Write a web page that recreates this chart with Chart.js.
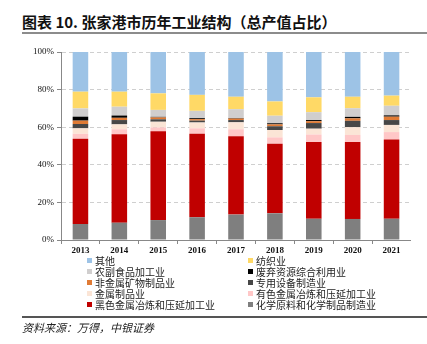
<!DOCTYPE html>
<html>
<head>
<meta charset="utf-8">
<script src="https://cdn.jsdelivr.net/npm/chart.js@4"></script>
<style>
  body { margin: 0; width: 427px; height: 344px; background: #fff; position: relative; overflow: hidden;
         font-family: "Noto Sans CJK SC", sans-serif; }
  #title { position: absolute; left: 22px; top: 11px; font-size: 15px; font-weight: bold; color: #111; white-space: nowrap; }
  #titleRule { position: absolute; left: 22px; right: 0; top: 32px; height: 2px; background: #8c8c8c; }
  #box { position: absolute; left: 0; top: 40px; width: 411px; height: 216px; }
  #legend { position: absolute; left: 0; top: 255px; width: 427px; font-size: 10px; color: #222; }
  .item { position: absolute; white-space: nowrap; line-height: 11px; }
  .item i { display: inline-block; width: 5px; height: 5px; margin-right: 3px; vertical-align: 2px; }
  #footRule { position: absolute; left: 22px; right: 0; top: 316px; height: 1.5px; background: #555; }
  #source { position: absolute; left: 22px; top: 319px; font-size: 11px; font-style: italic; color: #222; }
</style>
</head>
<body>
<div id="title">图表 10. 张家港市历年工业结构（总产值占比）</div>
<div id="titleRule"></div>
<div id="box"><canvas id="structChart"></canvas></div>
<div id="legend"></div>
<div id="footRule"></div>
<div id="source">资料来源：万得，中银证券</div>
<script>
const years = ['2013', '2014', '2015', '2016', '2017', '2018', '2019', '2020', '2021'];
const yTicks = [0, 20, 40, 60, 80, 100];

// shares of gross output value, %, bottom of stack first
const chemical   = [8.5, 9.2, 10.6, 12.1, 13.5, 14.2, 11.3, 11.2, 11.3];
const ferrous    = [45.4, 47.0, 47.2, 44.4, 41.7, 37.0, 40.8, 40.9, 42.1];
const nonferrous = [2.6, 2.7, 2.1, 2.9, 3.7, 3.4, 4.0, 3.8, 4.0];
const metalProd  = [2.9, 2.6, 3.0, 3.1, 3.7, 3.9, 3.1, 4.1, 3.8];
const equipment  = [2.3, 2.3, 1.3, 1.0, 1.2, 2.0, 3.0, 3.4, 2.6];
const nonMetal   = [1.8, 1.2, 1.0, 0.8, 0.8, 1.0, 1.0, 1.3, 1.8];
const recycling  = [2.1, 1.2, 0.3, 0.5, 0.3, 0.6, 0.6, 0.8, 0.7];
const foodProc   = [4.4, 4.7, 3.7, 3.9, 4.7, 4.0, 4.2, 4.6, 5.1];
const textile    = [8.9, 8.0, 8.8, 8.5, 6.6, 7.6, 7.9, 6.1, 5.4];
const others     = [21.1, 21.1, 22.0, 22.8, 23.8, 26.3, 24.1, 23.8, 23.2];

const series = [
  { label: '化学原料和化学制品制造业', data: chemical, color: '#7f7f7f' },
  { label: '黑色金属冶炼和压延加工业', data: ferrous, color: '#c00000' },
  { label: '有色金属冶炼和压延加工业', data: nonferrous, color: '#ffc7c7' },
  { label: '金属制品业', data: metalProd, color: '#fbe5d6' },
  { label: '专用设备制造业', data: equipment, color: '#474747' },
  { label: '非金属矿物制品业', data: nonMetal, color: '#e07b35' },
  { label: '废弃资源综合利用业', data: recycling, color: '#000000' },
  { label: '农副食品加工业', data: foodProc, color: '#d0cece' },
  { label: '纺织业', data: textile, color: '#ffd966' },
  { label: '其他', data: others, color: '#9dc3e6' }
];

const chart = new Chart(document.getElementById('structChart'), {
  type: 'bar',
  data: {
    labels: years,
    datasets: series.map(s => ({
      label: s.label,
      data: s.data,
      backgroundColor: s.color,
      borderWidth: 0,
      categoryPercentage: 1,
      barPercentage: 0.4
    }))
  },
  options: {
    responsive: true,
    maintainAspectRatio: false,
    animation: false,
    layout: { padding: { top: 12, right: 0, left: 0, bottom: 0 } },
    plugins: { legend: { display: false }, tooltip: { enabled: false } },
    scales: {
      x: {
        stacked: true,
        afterFit: s => { s.height = 16; },
        grid: { offset: true, drawOnChartArea: false, tickLength: 4, color: '#888' },
        border: { color: '#888' },
        ticks: { color: '#111', padding: 1, font: { family: 'Liberation Serif', size: 9, weight: 'bold' } }
      },
      y: {
        stacked: true,
        min: 0,
        max: 100,
        afterFit: s => { s.width = 61; },
        afterBuildTicks: s => { s.ticks = yTicks.map(v => ({ value: v })); },
        grid: { color: '#cfcfcf', tickColor: '#888', tickLength: 4, drawTicks: true },
        border: { color: '#888', dash: [4, 3] },
        ticks: { color: '#111', padding: 3, font: { family: 'Liberation Serif', size: 9 },
                 callback: v => v + '%' }
      }
    }
  }
});

// two-column legend, top of stack first
const legend = document.getElementById('legend');
series.slice().reverse().forEach((s, i) => {
  const el = document.createElement('div');
  el.className = 'item';
  el.style.left = (i % 2 === 0 ? 87 : 248) + 'px';
  el.style.top = (Math.floor(i / 2) * 11) + 'px';
  el.innerHTML = '<i style="background:' + s.color + '"></i>' + s.label;
  legend.appendChild(el);
});
</script>
</body>
</html>
